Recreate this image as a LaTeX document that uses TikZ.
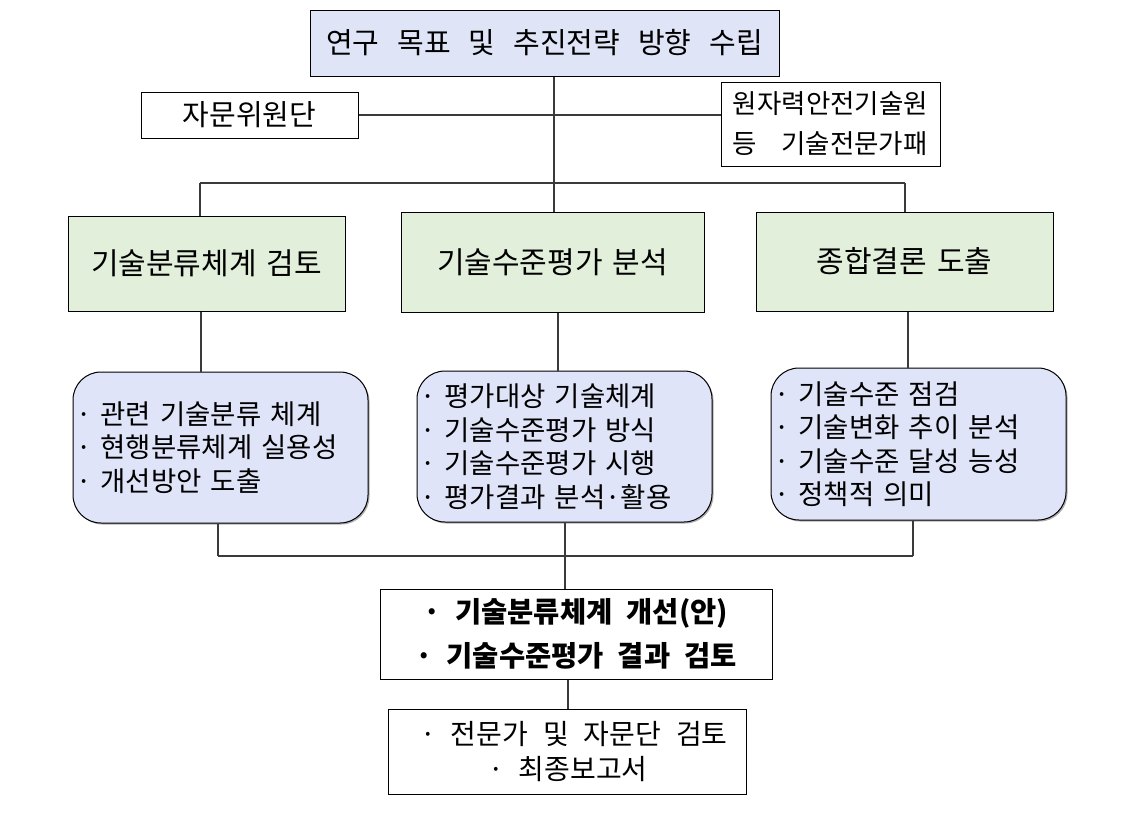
\documentclass[tikz,border=0pt]{standalone}
\usepackage{fontspec}
\setmainfont{Noto Sans CJK KR}
\usetikzlibrary{shadows}
\definecolor{topfill}{HTML}{DFE4F7}
\definecolor{greenfill}{HTML}{E2EFDA}
\definecolor{roundfill}{HTML}{E0E4F8}
\definecolor{linecol}{HTML}{3A3A3A}
\newcommand\wordgap[1]{\spaceskip=#1\relax}
\begin{document}
\begin{tikzpicture}[x=1pt,y=-1pt,
  box/.style={draw=black,line width=1pt,inner sep=0pt,align=center},
  titlebox/.style={box,fill=topfill,font=\fontsize{29}{32}\selectfont\wordgap{18pt}},
  sidebox/.style={box,fill=white,font=\fontsize{29}{32}\selectfont},
  greenbox/.style={box,fill=greenfill,font=\fontsize{30}{32}\selectfont\wordgap{10pt}},
  roundbox/.style={box,fill=roundfill,rounded corners=28pt,align=left,text width=289pt,inner xsep=3pt,
    font=\fontsize{27.5}{33.5}\selectfont\wordgap{15pt},
    drop shadow={shadow xshift=1.5pt,shadow yshift=-1.5pt,fill=black!45,opacity=0.7}},
  resultbox/.style={box,fill=white,font=\fontsize{28.5}{44}\selectfont\bfseries\wordgap{14pt}},
  finalbox/.style={box,fill=white,font=\fontsize{28}{35}\selectfont\wordgap{15pt}},
  conn/.style={draw=linecol,line width=1.1pt}]
\useasboundingbox (0,0) rectangle (1134,827);

% boxes
\node[titlebox,minimum width=469pt,minimum height=66pt] (top) at (544.5,43) {연구 목표 및 추진전략 방향 수립};
\node[sidebox,minimum width=217pt,minimum height=46pt] (adv) at (249.5,115) {자문위원단};
\node[sidebox,minimum width=219pt,minimum height=84pt,align=left,font=\fontsize{26.5}{40}\selectfont] (exp) at (830.5,124) {원자력안전기술원\\등\hspace{24pt}기술전문가패};

\node[greenbox,minimum width=277pt,minimum height=95pt] (g1) at (206.5,263.5) {기술분류체계 검토};
\node[greenbox,minimum width=303pt,minimum height=100pt] (g2) at (552.5,262) {기술수준평가 분석};
\node[greenbox,minimum width=297pt,minimum height=99pt] (g3) at (904.5,261.5) {종합결론 도출};

\node[roundbox,minimum height=151pt] (r1) at (220.5,447.5) {· 관련 기술분류 체계\\· 현행분류체계 실용성\\· 개선방안 도출};
\node[roundbox,minimum height=151pt] (r2) at (564.5,446.5) {· 평가대상 기술체계\\· 기술수준평가 방식\\· 기술수준평가 시행\\· 평가결과 분석·활용};
\node[roundbox,minimum height=152pt] (r3) at (918.5,444) {· 기술수준 점검\\· 기술변화 추이 분석\\· 기술수준 달성 능성\\· 정책적 의미};

\node[resultbox,minimum width=392pt,minimum height=90pt] (res) at (576,634) {· 기술분류체계 개선(안)\\· 기술수준평가 결과 검토};
\node[finalbox,minimum width=358pt,minimum height=85pt] (fin) at (567,751.5) {\hspace{14pt}· 전문가 및 자문단 검토\\\hspace{2pt}· 최종보고서};

% bus coordinates
\coordinate (tb) at (554,183);
\coordinate (tl) at (200,183);
\coordinate (tr) at (905,183);
\coordinate (bl) at (218,556);
\coordinate (bm) at (565,556);
\coordinate (br) at (913,556);

% connectors
\draw[conn] (tb |- top.south) -- (tb);
\draw[conn] (adv.east) -- (adv.east -| exp.west);
\draw[conn] (tl) -- (tr);
\draw[conn] (tl) -- (tl |- g1.north);
\draw[conn] (tb) -- (tb |- g2.north);
\draw[conn] (tr) -- (tr |- g3.north);

\draw[conn] ([xshift=-5.5pt]g1.south) -- ([xshift=-5.5pt]g1.south |- r1.north);
\draw[conn] ([xshift=5.5pt]g2.south) -- ([xshift=5.5pt]g2.south |- r2.north);
\draw[conn] ([xshift=3.5pt]g3.south) -- ([xshift=3.5pt]g3.south |- r3.north);

\draw[conn] (bl |- r1.south) -- (bl);
\draw[conn] (br |- r3.south) -- (br);
\draw[conn] (bl) -- (br);
\draw[conn] (bm |- r2.south) -- (bm |- res.north);
\draw[conn] ([xshift=-8pt]res.south) -- ([xshift=-8pt]res.south |- fin.north);
\end{tikzpicture}
\end{document}
